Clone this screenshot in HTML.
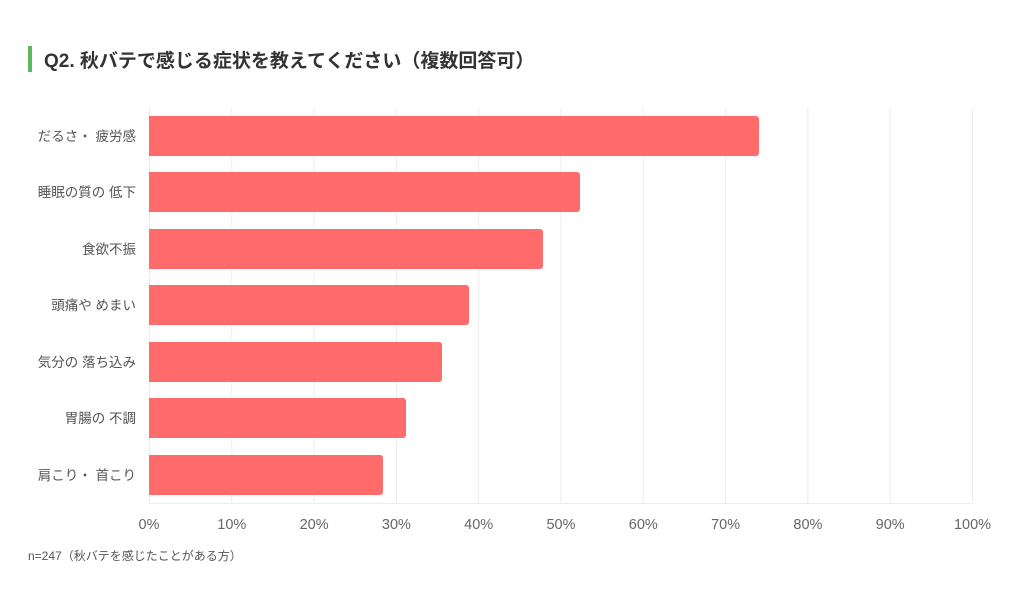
<!DOCTYPE html>
<html><head><meta charset="utf-8"><style>
body{margin:0;background:#fff;width:1024px;height:609px;overflow:hidden}
svg text{font-family:"Liberation Sans","Noto Sans CJK JP",sans-serif}
</style></head><body>
<svg width="1024" height="609" viewBox="0 0 1024 609" xmlns="http://www.w3.org/2000/svg">
<rect x="28" y="46" width="4" height="26" fill="#5cb85c"/>
<text x="44" y="67" font-size="19" font-weight="bold" fill="#333">Q2. 秋バテで感じる症状を教えてください（複数回答可）</text>
<g stroke="#ececec" stroke-width="1">
<line x1="149.5" y1="108" x2="149.5" y2="503"/>
<line x1="231.8" y1="108" x2="231.8" y2="503"/>
<line x1="314.1" y1="108" x2="314.1" y2="503"/>
<line x1="396.4" y1="108" x2="396.4" y2="503"/>
<line x1="478.7" y1="108" x2="478.7" y2="503"/>
<line x1="561" y1="108" x2="561" y2="503"/>
<line x1="643.3" y1="108" x2="643.3" y2="503"/>
<line x1="725.6" y1="108" x2="725.6" y2="503"/>
<line x1="807.9" y1="108" x2="807.9" y2="503"/>
<line x1="890.2" y1="108" x2="890.2" y2="503"/>
<line x1="972.5" y1="108" x2="972.5" y2="503"/>
<line x1="149" y1="503.5" x2="972" y2="503.5"/>
</g>
<g fill="#ff6b6b">
<rect x="149" y="116" width="610" height="40" rx="3"/><rect x="149" y="116" width="10" height="40"/>
<rect x="149" y="172" width="431" height="40" rx="3"/><rect x="149" y="172" width="10" height="40"/>
<rect x="149" y="229" width="394" height="40" rx="3"/><rect x="149" y="229" width="10" height="40"/>
<rect x="149" y="285" width="320" height="40" rx="3"/><rect x="149" y="285" width="10" height="40"/>
<rect x="149" y="342" width="293" height="40" rx="3"/><rect x="149" y="342" width="10" height="40"/>
<rect x="149" y="398" width="257" height="40" rx="3"/><rect x="149" y="398" width="10" height="40"/>
<rect x="149" y="455" width="234" height="40" rx="3"/><rect x="149" y="455" width="10" height="40"/>
</g>
<g font-size="13.5" fill="#555" text-anchor="end">
<text x="136" y="141">だるさ・ 疲労感</text>
<text x="136" y="197">睡眠の質の 低下</text>
<text x="136" y="254">食欲不振</text>
<text x="136" y="310">頭痛や めまい</text>
<text x="136" y="367">気分の 落ち込み</text>
<text x="136" y="423">胃腸の 不調</text>
<text x="136" y="480">肩こり・ 首こり</text>
</g>
<g font-size="14.5" fill="#666" text-anchor="middle">
<text x="149" y="529">0%</text>
<text x="231.8" y="529">10%</text>
<text x="314.1" y="529">20%</text>
<text x="396.4" y="529">30%</text>
<text x="478.7" y="529">40%</text>
<text x="561" y="529">50%</text>
<text x="643.3" y="529">60%</text>
<text x="725.6" y="529">70%</text>
<text x="807.9" y="529">80%</text>
<text x="890.2" y="529">90%</text>
<text x="972.5" y="529">100%</text>
</g>
<text x="28" y="560" font-size="12" fill="#555">n=247（秋バテを感じたことがある方）</text>
</svg>
</body></html>
